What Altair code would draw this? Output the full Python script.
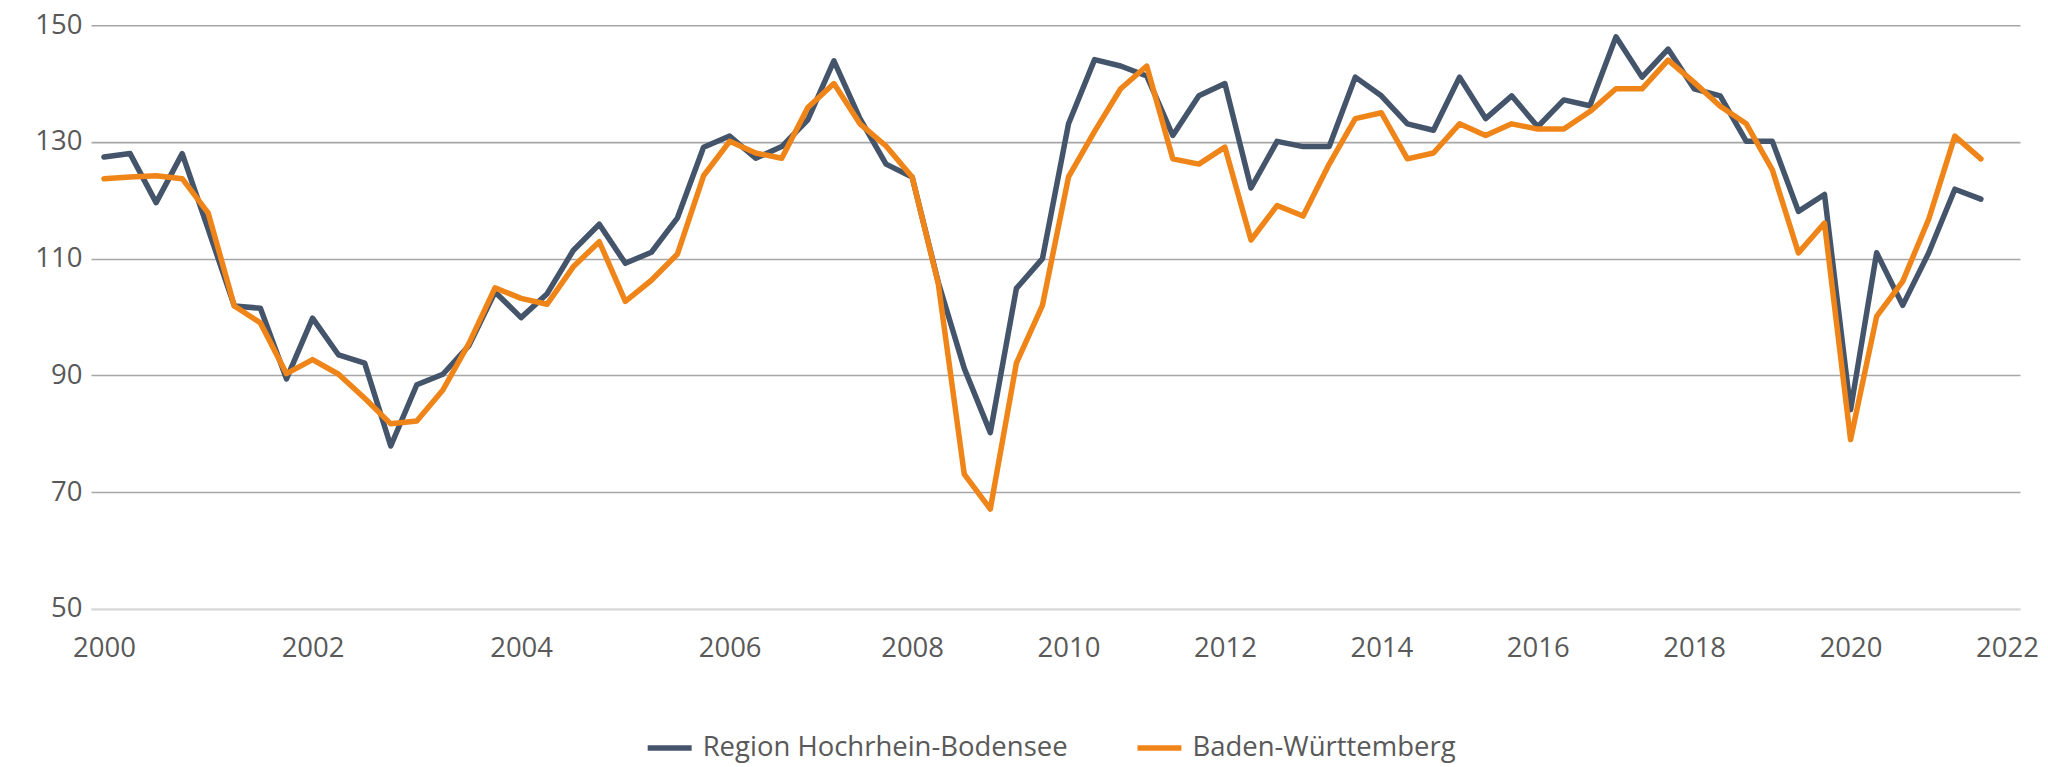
import altair as alt
import pandas as pd

# survey periods: quarterly 2000-2006, three surveys per year from 2007 on
quarterly_years = list(range(2000, 2007))
tertial_years = list(range(2007, 2022))
tick_years = [2000, 2002, 2004, 2006, 2008, 2010, 2012, 2014, 2016, 2018, 2020, 2022]
y_ticks = [50, 70, 90, 110, 130, 150]

series_names = ["Region Hochrhein-Bodensee", "Baden-Württemberg"]
series_colors = ["#44546A", "#EF8519"]

region = [
    127.4, 128.0, 119.6, 128.0, 115.0, 101.9, 101.5, 89.4,
    99.8, 93.5, 92.1, 77.9, 88.4, 90.2, 95.1, 104.3,
    99.9, 104.0, 111.4, 115.9, 109.2, 111.1, 117.0, 129.1,
    131.0, 127.2, 129.2, 133.8,
    143.9, 134.0, 126.2,
    124.0, 106.0, 91.2, 80.2, 104.9, 110.0,
    133.1, 144.1, 143.0, 141.3, 131.1, 137.9,
    140.0, 122.1, 130.1, 129.2, 129.2, 141.1,
    137.9, 133.1, 132.0, 141.1, 134.0, 137.9,
    132.6, 137.2, 136.2, 148.0, 141.1, 145.9,
    139.1, 137.9, 130.1, 130.1, 118.1, 121.0,
    84.1, 111.0, 102.0, 111.0, 121.9, 120.2,
]

bw = [
    123.7, 124.0, 124.2, 123.7, 117.8, 101.9, 99.0, 90.3,
    92.7, 90.2, 86.1, 81.7, 82.2, 87.5, 95.5, 105.0,
    103.2, 102.2, 108.6, 112.9, 102.7, 106.3, 110.8, 124.2,
    130.1, 128.1, 127.2, 135.9,
    140.0, 133.1, 129.3,
    124.0, 105.8, 73.1, 67.1, 92.1, 102.0,
    124.0, 131.8, 139.1, 143.0, 127.1, 126.2,
    129.1, 113.2, 119.1, 117.3, 126.2, 134.0,
    135.0, 127.1, 128.1, 133.1, 131.1, 133.1,
    132.2, 132.2, 135.2, 139.1, 139.1, 144.0,
    140.2, 136.1, 133.1, 125.2, 111.0, 116.1,
    79.0, 100.1, 106.1, 116.8, 131.0, 127.1,
]

periods = [f"{y}-{k}" for y in quarterly_years for k in range(1, 5)] + \
          [f"{y}-{k}" for y in tertial_years for k in range(1, 4)]
x_domain = periods + ["2022-1"]
tick_values = [f"{y}-1" for y in tick_years]

df = pd.DataFrame({
    "period": periods * 2,
    "value": region + bw,
    "series": [series_names[0]] * len(region) + [series_names[1]] * len(bw),
})

FONT = "Open Sans"
TXT = "#595959"
FS = 27.5

x_enc = alt.X(
    "period:N",
    scale=alt.Scale(type="point", domain=x_domain, padding=0.5),
    axis=alt.Axis(
        values=tick_values,
        labelExpr="substring(datum.label, 0, 4)",
        title=None, grid=False, ticks=False, tickSize=0,
        domain=True, domainColor="#D9D9D9", domainWidth=2,
        labelAngle=0, labelPadding=26, labelFontSize=FS,
        labelColor=TXT, labelFont=FONT, labelOverlap=False,
    ),
)
y_enc = alt.Y(
    "value:Q",
    scale=alt.Scale(domain=[50, 150], nice=False, zero=False),
    axis=alt.Axis(
        values=y_ticks, title=None, domain=False, ticks=False, tickSize=0,
        grid=True,
        gridColor={"condition": {"test": "datum.value === 50", "value": "#D9D9D9"},
                   "value": "#A6A6A6"},
        gridWidth=1.6,
        labelPadding=9, labelFontSize=FS, labelColor=TXT, labelFont=FONT,
    ),
)
color_enc = alt.Color(
    "series:N",
    scale=alt.Scale(domain=series_names, range=series_colors),
    legend=alt.Legend(
        title=None, orient="none", legendX=554, legendY=698,
        direction="horizontal", symbolType="stroke", symbolSize=1936,
        symbolStrokeWidth=5.5, labelFontSize=FS, labelFont=FONT,
        labelColor=TXT, columnPadding=58, labelOffset=8, labelLimit=1000,
    ),
)

base = alt.Chart(df).mark_line(strokeWidth=5.5, strokeJoin="round", strokeCap="round")

line_region = base.transform_filter(alt.datum.series == series_names[0]).encode(
    x=x_enc, y=y_enc, color=color_enc)
line_bw = base.transform_filter(alt.datum.series == series_names[1]).encode(
    x=x_enc, y=y_enc, color=color_enc)

chart = alt.layer(line_region, line_bw).properties(
    width=1930, height=584,
    padding={"left": 83, "top": 17, "right": 20, "bottom": 158},
    autosize=alt.AutoSizeParams(type="none"),
).configure(font=FONT).configure_view(stroke=None)

chart.save("out.html", embed_options={"renderer": "svg", "actions": False})
